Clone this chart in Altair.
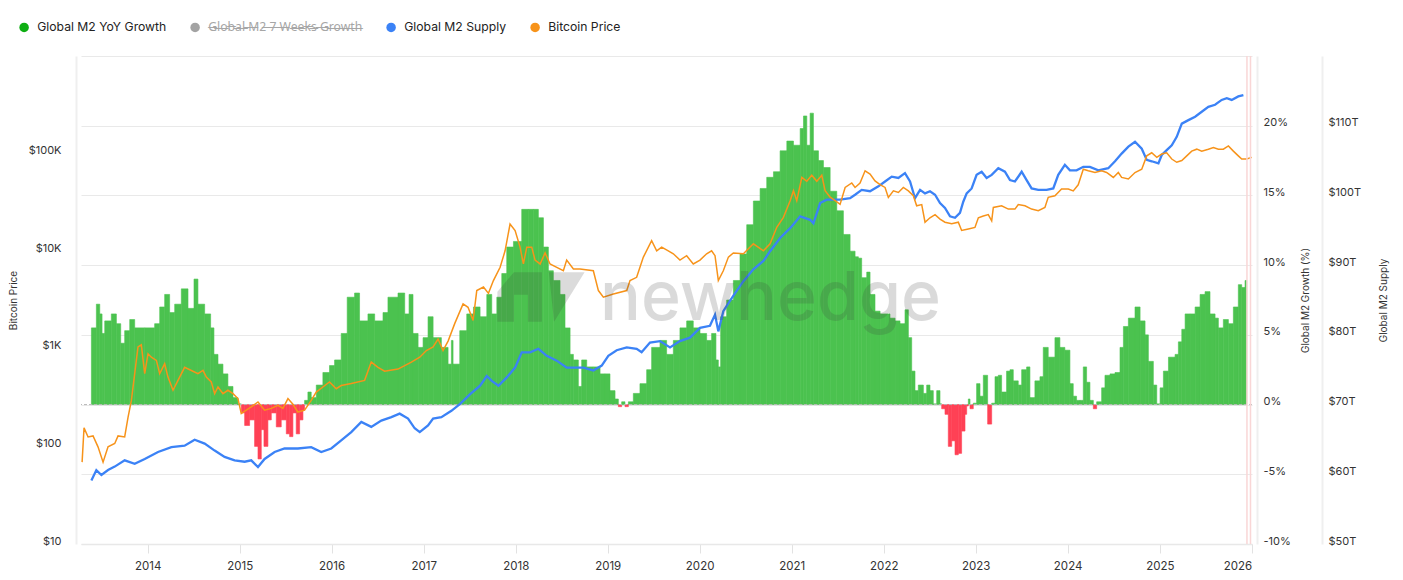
import altair as alt
import numpy as np
import pandas as pd

# ---------------- data ----------------
# (decimal year, Global M2 YoY growth %)
growth_points = [
    (2013.387, 5.5), (2013.441, 7.2), (2013.478, 6.5), (2013.503, 5.1), (2013.532, 6.0),
    (2013.604, 6.5), (2013.659, 5.8), (2013.706, 4.4), (2013.749, 5.3), (2013.804, 6.1),
    (2013.858, 5.5), (2013.967, 5.5), (2014.075, 5.8), (2014.130, 7.0), (2014.184, 7.9),
    (2014.238, 6.6), (2014.293, 7.2), (2014.365, 8.3), (2014.438, 6.9), (2014.503, 9.0),
    (2014.546, 7.2), (2014.619, 6.5), (2014.684, 5.5), (2014.720, 3.6), (2014.764, 2.9),
    (2014.818, 2.2), (2014.872, 1.3), (2014.927, 0.5), (2014.981, 0.05), (2015.017, -0.6),
    (2015.054, -1.5), (2015.108, -1.1), (2015.162, -3.0), (2015.199, -3.9), (2015.235, -1.8),
    (2015.264, -3.0), (2015.307, -1.1), (2015.344, -0.6), (2015.398, -1.6), (2015.452, -1.1),
    (2015.507, -2.1), (2015.543, -2.3), (2015.579, -0.6), (2015.615, -2.1), (2015.652, -1.1),
    (2015.688, -0.4), (2015.706, 0.3), (2015.742, 0.9), (2015.778, 0.5), (2015.833, 1.4),
    (2015.905, 2.3), (2015.977, 2.8), (2016.032, 3.2), (2016.104, 5.1), (2016.169, 7.7),
    (2016.249, 8.0), (2016.303, 6.0), (2016.394, 6.5), (2016.467, 6.0), (2016.557, 6.6),
    (2016.611, 7.7), (2016.720, 8.0), (2016.793, 6.5), (2016.840, 7.9), (2016.883, 5.1),
    (2016.938, 4.1), (2016.992, 4.8), (2017.046, 6.3), (2017.101, 4.8), (2017.191, 4.1),
    (2017.264, 2.9), (2017.300, 4.6), (2017.318, 2.9), (2017.391, 5.3),
    (2017.467, 6.5), (2017.540, 7.0), (2017.612, 6.3), (2017.685, 7.9), (2017.739, 6.5),
    (2017.794, 7.7), (2017.848, 9.4), (2017.902, 11.3), (2017.975, 11.7), (2018.065, 14.0),
    (2018.138, 14.0), (2018.192, 14.0), (2018.246, 13.4), (2018.301, 11.3), (2018.355, 9.6),
    (2018.409, 8.9), (2018.482, 7.9), (2018.536, 5.5), (2018.591, 3.6), (2018.627, 3.2),
    (2018.681, 1.3), (2018.717, 3.2), (2018.772, 2.7), (2018.844, 2.7), (2018.917, 2.2),
    (2018.971, 2.2), (2019.025, 1.0), (2019.080, 0.4), (2019.116, -0.15), (2019.152, 0.2),
    (2019.188, -0.15), (2019.225, 0.2), (2019.279, 0.8), (2019.351, 1.5), (2019.424, 2.5),
    (2019.478, 4.1), (2019.569, 4.6), (2019.641, 3.6), (2019.714, 4.6), (2019.786, 5.5),
    (2019.859, 6.0), (2019.931, 5.5), (2020.004, 5.1), (2020.076, 4.6), (2020.130, 5.1),
    (2020.177, 3.2), (2020.203, 2.7), (2020.228, 6.3), (2020.293, 7.5), (2020.366, 8.9),
    (2020.438, 10.8), (2020.511, 12.9), (2020.583, 14.6), (2020.656, 15.5), (2020.728, 16.3),
    (2020.801, 16.7), (2020.873, 18.2), (2020.946, 18.9), (2021.018, 18.6), (2021.091, 19.8),
    (2021.127, 20.7), (2021.163, 18.6), (2021.199, 20.9), (2021.235, 18.2), (2021.290, 17.5),
    (2021.344, 17.0), (2021.417, 15.3), (2021.489, 13.9), (2021.561, 12.2), (2021.634, 11.0),
    (2021.688, 10.6), (2021.724, 10.5), (2021.760, 9.1), (2021.815, 9.5), (2021.851, 7.9),
    (2021.905, 6.7), (2021.960, 6.5), (2022.014, 6.5), (2022.068, 6.2), (2022.123, 6.0),
    (2022.177, 5.8), (2022.231, 6.8), (2022.268, 4.8), (2022.304, 2.4), (2022.340, 1.0),
    (2022.376, 1.4), (2022.431, 0.8), (2022.467, 1.4), (2022.503, 1.0), (2022.539, 0.05),
    (2022.576, 1.0), (2022.612, 0.05), (2022.630, -0.3), (2022.666, -0.7), (2022.702, -3.0),
    (2022.739, -2.6), (2022.775, -3.6), (2022.811, -3.5), (2022.847, -1.9), (2022.884, -0.7),
    (2022.902, -0.1), (2022.920, 0.4), (2022.938, -0.3), (2022.974, 0.1), (2023.010, 1.5),
    (2023.047, 0.6), (2023.083, 2.1), (2023.130, -1.4), (2023.174, 0.1), (2023.210, 2.0),
    (2023.246, 2.1), (2023.282, 0.9), (2023.336, 2.4), (2023.373, 2.5), (2023.409, 1.7),
    (2023.463, 1.4), (2023.500, 2.5), (2023.554, 2.7), (2023.590, 0.5), (2023.644, 1.7),
    (2023.699, 2.0), (2023.735, 4.1), (2023.789, 3.4), (2023.862, 4.8), (2023.916, 4.1),
    (2023.970, 3.9), (2024.025, 1.5), (2024.061, 0.6), (2024.097, 0.3), (2024.134, 0.3),
    (2024.170, 2.7), (2024.206, 1.6), (2024.242, 0.3), (2024.279, -0.3), (2024.315, 0.2),
    (2024.369, 1.2), (2024.405, 2.1), (2024.460, 2.2), (2024.514, 2.3), (2024.568, 4.1),
    (2024.605, 5.6), (2024.659, 6.2), (2024.731, 7.0), (2024.786, 6.0), (2024.840, 5.0),
    (2024.876, 3.1), (2024.930, 1.4), (2024.967, 0.05), (2025.003, 1.2), (2025.039, 2.4),
    (2025.094, 3.4), (2025.166, 3.6), (2025.202, 4.5), (2025.239, 5.4), (2025.275, 6.5),
    (2025.329, 6.5), (2025.384, 7.0), (2025.438, 7.9), (2025.492, 8.1), (2025.546, 6.5),
    (2025.601, 6.2), (2025.637, 5.5), (2025.691, 6.1), (2025.746, 5.8), (2025.800, 7.0),
    (2025.854, 8.6), (2025.891, 8.4), (2025.927, 8.9),
]

# (decimal year, Bitcoin price USD)
btc_points = [
    (2013.286, 69), (2013.307, 155), (2013.351, 125), (2013.405, 128), (2013.459, 99),
    (2013.514, 69), (2013.568, 99), (2013.641, 107), (2013.677, 128), (2013.749, 125),
    (2013.786, 200), (2013.822, 296), (2013.858, 556), (2013.894, 1045), (2013.930, 1100),
    (2013.967, 556), (2014.003, 890), (2014.039, 820), (2014.094, 760), (2014.130, 556),
    (2014.184, 703), (2014.220, 513), (2014.275, 376), (2014.329, 475), (2014.401, 646),
    (2014.474, 600), (2014.546, 556), (2014.601, 600), (2014.637, 513), (2014.691, 457),
    (2014.728, 347), (2014.764, 406), (2014.818, 347), (2014.872, 376), (2014.927, 347),
    (2014.981, 309), (2015.017, 217), (2015.072, 235), (2015.126, 254), (2015.199, 285),
    (2015.271, 235), (2015.344, 245), (2015.416, 264), (2015.470, 245), (2015.525, 309),
    (2015.579, 270), (2015.633, 225), (2015.706, 235), (2015.778, 296), (2015.833, 360),
    (2015.905, 406), (2015.977, 457), (2016.050, 390), (2016.104, 420), (2016.213, 440),
    (2016.358, 475), (2016.430, 731), (2016.503, 646), (2016.575, 590), (2016.720, 620),
    (2016.865, 731), (2016.956, 820), (2017.028, 960), (2017.101, 1045), (2017.155, 1260),
    (2017.209, 960), (2017.264, 1200), (2017.336, 1810), (2017.427, 2880), (2017.481, 2660),
    (2017.536, 1950), (2017.576, 3950), (2017.649, 4300), (2017.703, 3700), (2017.757, 5000),
    (2017.830, 6840), (2017.884, 10100), (2017.938, 19000), (2017.993, 16300), (2018.047, 11000),
    (2018.083, 7400), (2018.120, 11000), (2018.174, 11000), (2018.210, 8100), (2018.265, 7400),
    (2018.319, 9600), (2018.373, 7400), (2018.446, 6840), (2018.518, 6300), (2018.554, 8100),
    (2018.627, 6580), (2018.699, 6580), (2018.844, 6300), (2018.899, 3950), (2018.953, 3380),
    (2019.062, 3650), (2019.207, 3950), (2019.243, 5000), (2019.315, 5400), (2019.388, 8700),
    (2019.478, 12800), (2019.533, 10100), (2019.587, 11000), (2019.659, 10100), (2019.714, 9400),
    (2019.786, 8100), (2019.859, 9000), (2019.931, 7400), (2020.004, 8100), (2020.076, 9400),
    (2020.130, 10100), (2020.167, 9000), (2020.203, 5000), (2020.257, 6300), (2020.312, 8700),
    (2020.366, 9600), (2020.475, 9400), (2020.583, 11900), (2020.692, 10100), (2020.764, 11900),
    (2020.837, 17600), (2020.909, 22200), (2020.982, 32900), (2021.018, 41700), (2021.054, 32900),
    (2021.109, 57000), (2021.163, 52000), (2021.217, 60000), (2021.272, 52000), (2021.326, 60000),
    (2021.362, 41700), (2021.417, 35800), (2021.471, 32900), (2021.525, 30200), (2021.580, 45000),
    (2021.652, 50000), (2021.688, 45000), (2021.742, 49900), (2021.797, 66700), (2021.851, 61600),
    (2021.905, 52500), (2021.960, 48000), (2022.014, 45000), (2022.050, 35600), (2022.105, 41500),
    (2022.159, 40000), (2022.213, 45000), (2022.268, 41500), (2022.322, 37000), (2022.358, 29200),
    (2022.413, 30000), (2022.449, 19800), (2022.503, 22000), (2022.558, 23700), (2022.612, 21300),
    (2022.666, 19800), (2022.739, 19100), (2022.811, 19800), (2022.847, 16300), (2022.920, 16900),
    (2022.992, 17500), (2023.029, 22000), (2023.083, 22900), (2023.137, 23700), (2023.174, 20500),
    (2023.192, 28100), (2023.282, 29200), (2023.355, 27000), (2023.427, 27000), (2023.463, 30000),
    (2023.536, 29200), (2023.608, 27000), (2023.681, 26000), (2023.753, 28100), (2023.789, 35600),
    (2023.862, 37000), (2023.934, 43400), (2024.007, 43400), (2024.061, 41500), (2024.115, 47900),
    (2024.170, 69200), (2024.224, 66700), (2024.297, 64000), (2024.369, 66700), (2024.423, 64000),
    (2024.496, 57000), (2024.550, 64000), (2024.586, 57000), (2024.659, 55000), (2024.731, 64000),
    (2024.804, 69200), (2024.858, 94800), (2024.912, 102000), (2024.967, 91500), (2025.021, 99000),
    (2025.075, 102000), (2025.130, 88000), (2025.184, 81500), (2025.239, 85000), (2025.293, 94800),
    (2025.347, 106000), (2025.402, 111000), (2025.456, 106000), (2025.528, 111000), (2025.583, 115500),
    (2025.637, 111000), (2025.691, 111000), (2025.746, 120000), (2025.800, 106000), (2025.854, 94800),
    (2025.891, 88000), (2025.945, 88000), (2025.999, 91500),
]

# (decimal year, Global M2 supply in trillions USD)
m2_points = [
    (2013.387, 59.1), (2013.441, 60.6), (2013.496, 59.9), (2013.568, 60.6), (2013.641, 61.1),
    (2013.749, 62.0), (2013.858, 61.5), (2013.967, 62.2), (2014.112, 63.2), (2014.257, 63.9),
    (2014.401, 64.1), (2014.510, 64.95), (2014.619, 64.4), (2014.728, 63.4), (2014.836, 62.5),
    (2014.945, 62.0), (2015.054, 61.8), (2015.126, 62.0), (2015.199, 61.05), (2015.271, 62.2),
    (2015.380, 63.2), (2015.488, 63.7), (2015.633, 63.7), (2015.778, 63.9), (2015.887, 63.2),
    (2015.996, 63.7), (2016.104, 64.86), (2016.213, 66.05), (2016.322, 67.5), (2016.430, 66.8),
    (2016.539, 67.7), (2016.648, 68.2), (2016.738, 68.7), (2016.829, 68.0), (2016.901, 66.6),
    (2016.956, 66.05), (2017.046, 67.0), (2017.101, 68.0), (2017.191, 68.2), (2017.300, 69.1),
    (2017.395, 70.1), (2017.504, 71.5), (2017.612, 72.7), (2017.685, 74.1), (2017.739, 73.4),
    (2017.812, 72.7), (2017.902, 73.9), (2017.993, 75.3), (2018.065, 77.5), (2018.156, 77.5),
    (2018.246, 78.0), (2018.337, 77.0), (2018.446, 76.3), (2018.554, 75.3), (2018.645, 75.3),
    (2018.736, 75.3), (2018.844, 74.9), (2018.935, 75.6), (2019.007, 77.0), (2019.098, 77.8),
    (2019.207, 78.2), (2019.315, 78.0), (2019.369, 77.5), (2019.460, 78.9), (2019.569, 79.1),
    (2019.678, 78.2), (2019.786, 79.1), (2019.895, 79.6), (2020.004, 81.0), (2020.112, 81.3),
    (2020.167, 82.9), (2020.203, 80.5), (2020.257, 83.4), (2020.330, 84.9), (2020.402, 86.3),
    (2020.475, 87.7), (2020.583, 89.4), (2020.692, 90.6), (2020.764, 92.0), (2020.873, 93.9),
    (2020.982, 95.3), (2021.091, 97.0), (2021.199, 96.5), (2021.235, 96.0), (2021.308, 98.9),
    (2021.380, 99.4), (2021.525, 99.4), (2021.634, 99.6), (2021.688, 100.1), (2021.760, 100.8),
    (2021.851, 100.6), (2021.942, 101.3), (2022.014, 102.0), (2022.087, 102.7), (2022.159, 102.5),
    (2022.231, 103.2), (2022.286, 102.0), (2022.340, 99.6), (2022.395, 100.8), (2022.449, 100.3),
    (2022.503, 100.6), (2022.558, 100.1), (2022.612, 98.9), (2022.666, 98.2), (2022.721, 97.0),
    (2022.775, 96.8), (2022.829, 97.5), (2022.865, 99.1), (2022.902, 100.3), (2022.956, 101.0),
    (2023.010, 102.95), (2023.065, 103.4), (2023.119, 102.5), (2023.174, 102.95), (2023.246, 103.9),
    (2023.318, 103.4), (2023.373, 102.2), (2023.427, 102.0), (2023.500, 103.4), (2023.554, 102.2),
    (2023.608, 101.0), (2023.681, 100.8), (2023.771, 100.8), (2023.844, 101.0), (2023.898, 102.95),
    (2023.970, 104.4), (2024.025, 103.6), (2024.097, 103.6), (2024.170, 104.1), (2024.242, 104.1),
    (2024.333, 103.6), (2024.441, 103.9), (2024.514, 104.9), (2024.586, 106.0), (2024.659, 107.0),
    (2024.731, 107.7), (2024.804, 106.7), (2024.858, 105.1), (2024.912, 104.9), (2024.985, 104.6),
    (2025.021, 105.8), (2025.075, 106.5), (2025.130, 107.2), (2025.184, 108.4), (2025.239, 110.3),
    (2025.311, 110.8), (2025.384, 111.3), (2025.456, 112.0), (2025.528, 112.7), (2025.601, 113.0),
    (2025.673, 113.7), (2025.728, 113.95), (2025.782, 113.7), (2025.854, 114.2), (2025.909, 114.4),
]

series_names = ["Global M2 YoY Growth", "Global M2 7 Weeks Growth", "Global M2 Supply", "Bitcoin Price"]
series_colors = ["#0DAE12", "#A3A3A3", "#3B82F6", "#F7931A"]
line_names = ["Global M2 Supply", "Bitcoin Price"]
line_colors = ["#3B82F6", "#F7931A"]
hidden_series = "Global M2 7 Weeks Growth"
bar_pos_color = "#4BC24F"
bar_neg_color = "#FF4155"

year_ticks = list(range(2014, 2027))
btc_ticks = [10, 100, 1000, 10000, 100000]
growth_ticks = [-10, -5, 0, 5, 10, 15, 20, 25]
m2_ticks = [50, 60, 70, 80, 90, 100, 110]
marker_dates = ["2025-12-13", "2025-12-27"]
watermark_text = "newhedge"


def to_date(y):
    yr = int(np.floor(y))
    start = pd.Timestamp(yr, 1, 1)
    end = pd.Timestamp(yr + 1, 1, 1)
    return start + (end - start) * (y - yr)


gdf = pd.DataFrame(growth_points, columns=["year", "growth"])
gdf["date"] = gdf["year"].map(to_date)
gdf["end"] = gdf["date"].shift(-1)
gdf.loc[gdf.index[-1], "end"] = gdf["date"].iloc[-1] + pd.Timedelta(days=7)
gdf = gdf.drop(columns="year")

bdf = pd.DataFrame(btc_points, columns=["year", "price"])
bdf["date"] = bdf["year"].map(to_date)
bdf["series"] = "Bitcoin Price"
bdf = bdf.drop(columns="year")

mdf = pd.DataFrame(m2_points, columns=["year", "supply"])
mdf["date"] = mdf["year"].map(to_date)
mdf["series"] = "Global M2 Supply"
mdf = mdf.drop(columns="year")

marker_df = pd.DataFrame({"date": pd.to_datetime(marker_dates)})
legend_df = pd.DataFrame({"series": series_names})

# ---------------- encodings ----------------
X_SCALE = alt.Scale(domain=[alt.DateTime(year=2013, month=4, date=11),
                            alt.DateTime(year=2026, month=1, date=2)], nice=False)
X_AXIS = alt.Axis(values=[alt.DateTime(year=y, month=1, date=1) for y in year_ticks],
                  format="%Y", grid=False, tickColor="#e2e2e2", tickSize=9,
                  labelPadding=7, domainColor="#e8e8e8", domainWidth=1.5,
                  labelFontSize=11.5, labelColor="#333333")


def xenc(field="date"):
    return alt.X(f"{field}:T", scale=X_SCALE, axis=X_AXIS, title=None)


growth_y = alt.Y(
    "growth:Q",
    scale=alt.Scale(domain=[-10, 25], nice=False, zero=False),
    axis=alt.Axis(orient="right", offset=5, values=growth_ticks,
                  labelExpr="datum.value >= 25 ? '' : datum.value + '%'",
                  grid=True, gridColor="#e9e9e9", ticks=False, labelPadding=6,
                  titlePadding=20, titleAngle=270, domainColor="#efefef", domainWidth=2,
                  labelBaseline="alphabetic"),
    title="Global M2 Growth (%)")

sign_test = "datum.growth >= 0"
bars = alt.Chart(gdf).mark_rect(strokeWidth=0.6).encode(
    x=xenc(), x2="end:T", y=growth_y, y2=alt.datum(0),
    fill=alt.condition(sign_test, alt.value(bar_pos_color), alt.value(bar_neg_color)),
    stroke=alt.condition(sign_test, alt.value(bar_pos_color), alt.value(bar_neg_color)),
)
zero_rule = alt.Chart(pd.DataFrame({"growth": [0]})).mark_rule(
    color="#b8b8b8", strokeDash=[3, 2], strokeWidth=1).encode(y=growth_y)
growth_layer = alt.layer(bars, zero_rule)

stroke_enc = alt.Stroke("series:N", scale=alt.Scale(domain=line_names, range=line_colors), legend=None)

m2_line = alt.Chart(mdf).mark_line(strokeWidth=2.3).encode(
    x=xenc(),
    y=alt.Y("supply:Q", scale=alt.Scale(domain=[50, 120], nice=False, zero=False),
            axis=alt.Axis(orient="right", offset=70, values=m2_ticks,
                          labelExpr="'$' + datum.value + 'T'", grid=False, ticks=False,
                          labelPadding=6, titlePadding=28, titleAngle=270,
                          domainColor="#efefef", domainWidth=2, labelBaseline="alphabetic"),
            title="Global M2 Supply"),
    stroke=stroke_enc,
)

btc_line = alt.Chart(bdf).mark_line(strokeWidth=1.5).encode(
    x=xenc(),
    y=alt.Y("price:Q", scale=alt.Scale(type="log", domain=[10, 1000000], nice=False),
            axis=alt.Axis(orient="left", offset=5, values=btc_ticks,
                          labelExpr="datum.value >= 1000 ? '$' + format(datum.value / 1000, 'd') + 'K' : '$' + format(datum.value, 'd')",
                          grid=False, ticks=False, labelPadding=15, titlePadding=10,
                          domainColor="#efefef", domainWidth=2, labelBaseline="alphabetic"),
            title="Bitcoin Price"),
    stroke=stroke_enc,
)

markers = alt.Chart(marker_df).mark_rule(color="#f9d6d6", strokeWidth=1.5).encode(
    x=xenc())

struck = "".join(ch + "\u0336" for ch in hidden_series)
is_hidden = f"datum.label == '{hidden_series}'"
legend_layer = alt.Chart(legend_df).mark_point(filled=True, opacity=1).encode(
    x=alt.value(-600), y=alt.value(-600),
    fill=alt.Fill("series:N", scale=alt.Scale(domain=series_names, range=series_colors),
                  legend=alt.Legend(
                      title=None, orient="none", legendX=-63, legendY=-35,
                      direction="horizontal", symbolType="circle", symbolSize=90,
                      symbolStrokeWidth=0, symbolOpacity=1, labelFontSize=12.2,
                      labelFont=alt.ExprRef(expr=f"{is_hidden} ? 'Noto Sans' : 'Inter'"),
                      labelOffset=7, columnPadding=22, padding=0,
                      labelExpr=f"{is_hidden} ? '{struck}' : datum.label",
                      labelColor=alt.ExprRef(expr=f"{is_hidden} ? '#a6a6a6' : '#222222'"),
                  )))

logo_path = ("M-1,0.57 L-1,-0.12 L-0.62,-0.57 L0.02,-0.57 L0.02,0.57 L-0.3,0.57 L-0.3,-0.05 "
             "L-0.62,-0.05 L-0.62,0.57 Z M0.18,-0.57 L1,-0.57 L0.3,0.57 Z")
logo = alt.Chart(pd.DataFrame({"k": [1]})).mark_point(
    shape=logo_path, filled=True, size=7600, color="#3a3a3a", opacity=0.18, strokeWidth=0
).encode(x=alt.value(460), y=alt.value(241))

watermark = alt.Chart(pd.DataFrame({"t": [watermark_text]})).mark_text(
    font="Inter", fontSize=68, fontWeight=500, color="#3a3a3a", opacity=0.18,
    align="left", baseline="alphabetic").encode(text="t:N", x=alt.value(519), y=alt.value(264))

chart = alt.layer(
    growth_layer, m2_line, btc_line, markers, legend_layer, logo, watermark
).resolve_scale(y="independent").properties(
    width=1171, height=488,
    padding={"left": 73, "top": 48, "right": 143, "bottom": 28},
    autosize=alt.AutoSizeParams(type="none"),
).configure_axis(
    labelFont="Inter", titleFont="Inter", labelFontSize=11, labelColor="#333333",
    titleFontSize=10, titleFontWeight="normal", titleColor="#333333",
).configure_view(stroke=None)

chart.save("out.html", embed_options={"renderer": "svg", "actions": False})
